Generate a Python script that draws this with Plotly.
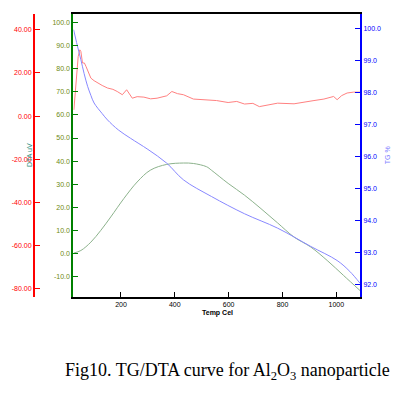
import plotly.graph_objects as go

# ---- data ----
temp_tg = [24, 35, 51, 63, 76, 88, 100, 130, 150, 190, 235, 300, 370, 432, 536, 659, 782, 905, 1003, 1050, 1088]
tg = [99.95, 99.55, 99.01, 98.58, 98.18, 97.9, 97.66, 97.33, 97.13, 96.82, 96.56, 96.21, 95.78, 95.26, 94.74,
      94.20, 93.75, 93.18, 92.74, 92.4, 92.03]

temp_dta = [25, 51, 88, 125, 162, 211, 260, 309, 370, 432, 469, 518, 536, 598, 659, 720, 782, 843, 905, 966, 1027, 1088]
dta = [0.3, 1.4, 5.0, 10.1, 15.9, 23.9, 31.0, 36.1, 38.6, 39.2, 39.0, 37.6, 36.1, 30.4, 25.3, 19.5, 13.3, 7.2,
       2.9, -2.9, -9.4, -15.9]

temp_red = [25, 28, 35, 41, 47, 51, 57, 64, 70, 80, 88, 100, 113, 130, 150, 170, 186, 205, 221, 242, 260, 285,
            310, 334, 370, 389, 410, 432, 469, 518, 555, 598, 630, 659, 690, 714, 750, 782, 843, 880, 917, 954,
            990, 1003, 1020, 1040, 1064, 1088]
red = [2.9, 7.6, 18.4, 27.6, 30.7, 29.9, 24.6, 24.6, 23.0, 20.0, 17.6, 16.4, 15.3, 14.2, 13.0, 12.4, 11.4, 9.9,
       12.2, 8.3, 9.0, 8.8, 8.0, 8.3, 9.4, 11.4, 10.4, 9.9, 7.9, 7.6, 7.2, 6.3, 6.8, 5.6, 5.9, 4.4, 5.3, 6.0, 5.7,
       6.3, 7.2, 7.9, 9.1, 7.6, 9.5, 10.7, 11.1, 11.1]

x_ticks = [200, 400, 600, 800, 1000]
green_ticks = [-10, 0, 10, 20, 30, 40, 50, 60, 70, 80, 90, 100]
green_labels = ["-10.0", "0.0", "10.0", "20.0", "30.0", "40.0", "50.0", "60.0", "70.0", "80.0", "90.0", "100.0"]
red_ticks = [-80, -60, -40, -20, 0, 20, 40]
red_labels = ["-80.00", "-60.00", "-40.00", "-20.00", "0.00", "20.00", "40.00"]
blue_ticks = [92, 93, 94, 95, 96, 97, 98, 99, 100]
blue_labels = ["92.0", "93.0", "94.0", "95.0", "96.0", "97.0", "98.0", "99.0", "100.0"]

FONT = "Liberation Sans, Arial, sans-serif"

fig = go.Figure()
fig.add_trace(go.Scatter(x=temp_dta, y=dta, yaxis="y", mode="lines",
                         line=dict(color="#8cb28c", width=1, shape="spline")))
fig.add_trace(go.Scatter(x=temp_tg, y=tg, yaxis="y3", mode="lines",
                         line=dict(color="#8888ff", width=1, shape="spline")))
fig.add_trace(go.Scatter(x=temp_red, y=red, yaxis="y2", mode="lines",
                         line=dict(color="#ff8080", width=1)))

fig.update_layout(
    width=397, height=397,
    margin=dict(l=31, r=37, t=14, b=100),
    paper_bgcolor="white", plot_bgcolor="white",
    showlegend=False,
    xaxis=dict(domain=[0.1207, 1], range=[23, 1088], tickvals=x_ticks, ticks="inside", ticklen=5,
               tickcolor="black", showline=True, linecolor="black", linewidth=2, mirror=True,
               showgrid=False, zeroline=False, tickfont=dict(size=7, color="black", family=FONT)),
    yaxis=dict(range=[-18.7, 103.6], tickvals=green_ticks, ticktext=green_labels, ticks="inside", ticklen=5,
               tickcolor="green", showline=True, linecolor="green", linewidth=2, showgrid=False,
               zeroline=False, tickfont=dict(size=7, color="#6e8a10", family=FONT)),
    yaxis2=dict(overlaying="y", anchor="free", position=0, side="left", range=[-83.73, 47.27],
                tickvals=red_ticks, ticktext=red_labels, ticks="inside", ticklen=5, tickcolor="red",
                showline=True, linecolor="red", linewidth=2, showgrid=False, zeroline=False,
                tickfont=dict(size=7, color="red", family=FONT)),
    yaxis3=dict(overlaying="y", anchor="x", side="right", range=[91.6, 100.44],
                tickvals=blue_ticks, ticktext=blue_labels, ticks="inside", ticklen=5, tickcolor="blue",
                showline=True, linecolor="blue", linewidth=2, showgrid=False, zeroline=False,
                tickfont=dict(size=7, color="blue", family=FONT)),
    annotations=[
        dict(text="DTA uV", xref="paper", yref="paper", x=-0.012, y=0.502, textangle=-90, showarrow=False,
             xanchor="center", yanchor="middle",
             font=dict(size=7, color="#2f8f80", family=FONT)),
        dict(text="TG %", xref="paper", yref="paper", x=1.085, y=0.50, textangle=-90, showarrow=False,
             xanchor="center", yanchor="middle",
             font=dict(size=7, color="#7f7fff", family=FONT)),
        dict(text="<b>Temp Cel</b>", xref="paper", yref="paper", x=0.562, y=-0.056, showarrow=False,
             xanchor="center", yanchor="middle",
             font=dict(size=7, color="black", family=FONT)),
        dict(text="Fig10. TG/DTA curve for Al<sub>2</sub>O<sub>3</sub> nanoparticle", xref="paper", yref="paper",
             x=0.593, y=-0.265, showarrow=False, xanchor="center", yanchor="middle",
             font=dict(size=18, color="black", family="Liberation Serif, Times New Roman, serif")),
    ],
)

fig.write_html("out.html", config={"displayModeBar": False},
               post_script="document.body.style.margin='0';")
